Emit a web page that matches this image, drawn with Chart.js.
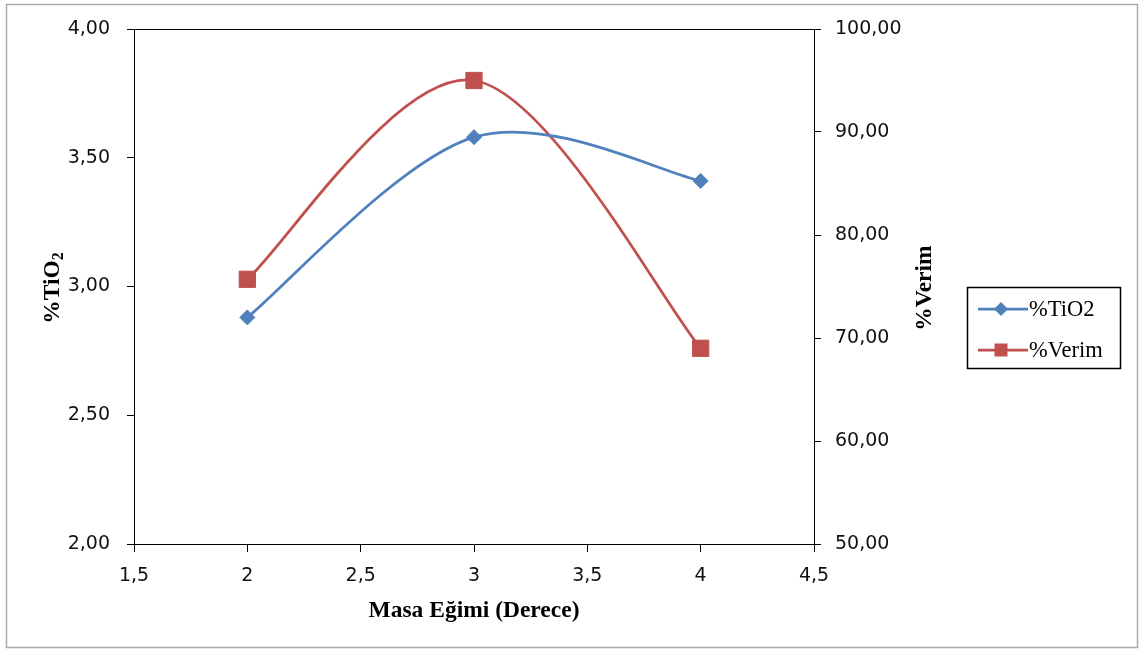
<!DOCTYPE html>
<html><head><meta charset="utf-8">
<script src="https://cdn.jsdelivr.net/npm/chart.js@4.4.1/dist/chart.umd.min.js"></script>
<style>html,body{margin:0;padding:0;background:#fff;overflow:hidden}#wrap{position:relative;width:1148px;height:651px}</style>
</head><body><div id="wrap"><canvas id="c" width="1148" height="651"></canvas></div>
<script>
const xValues = [2, 3, 4];
const tio2Values = [2.88, 3.58, 3.41];
const verimValues = [75.7, 95.0, 69.0];
const seriesNames = ['%TiO2', '%Verim'];
const xTickValues = [1.5, 2, 2.5, 3, 3.5, 4, 4.5];
const xTickLabels = ['1,5', '2', '2,5', '3', '3,5', '4', '4,5'];
const leftTickValues = [2, 2.5, 3, 3.5, 4];
const leftTickLabels = ['2,00', '2,50', '3,00', '3,50', '4,00'];
const rightTickValues = [50, 60, 70, 80, 90, 100];
const rightTickLabels = ['50,00', '60,00', '70,00', '80,00', '90,00', '100,00'];
const xTitle = 'Masa Eğimi (Derece)';
const leftTitleMain = '%TiO';
const leftTitleSub = '2';
const rightTitle = '%Verim';

const BLUE = '#4F81BD', RED = '#C0504D';
const tickFont = {family: 'DejaVu Sans', size: 19};
const titleFontFamily = '"Liberation Serif", "Times New Roman", serif';
const TITLE_SIZE = 23.5;

function setTicks(values) {
  return function(scale) { scale.ticks = values.map(v => ({value: v})); };
}
function labelFor(values, labels) {
  return function(v) { const i = values.indexOf(v); return i >= 0 ? labels[i] : ''; };
}

// Excel-like smoothing (Catmull-Rom style control points)
const smooth = {
  id: 'smooth',
  beforeDatasetDraw(chart, args) {
    const meta = args.meta;
    const line = meta.dataset;
    if (!line) return;
    line.updateControlPoints(chart.chartArea, 'x');
    const pts = meta.data;
    const k = 1 / 6;
    for (let i = 0; i < pts.length; i++) {
      const p = pts[i];
      const prev = pts[i - 1] || p;
      const next = pts[i + 1] || p;
      const dx = (next.x - prev.x) * k, dy = (next.y - prev.y) * k;
      p.cp1x = p.x - dx; p.cp1y = p.y - dy;
      p.cp2x = p.x + dx; p.cp2y = p.y + dy;
    }
  }
};

const decor = {
  id: 'decor',
  beforeDraw(chart) {
    const ctx = chart.ctx;
    ctx.save();
    ctx.fillStyle = '#fff';
    ctx.fillRect(0, 0, chart.width, chart.height);
    ctx.restore();
  },
  afterDraw(chart) {
    const ctx = chart.ctx, a = chart.chartArea;
    ctx.save();
    // outer frame
    ctx.strokeStyle = '#ababab';
    ctx.lineWidth = 1.5;
    ctx.strokeRect(6.5, 4.5, 1131, 643);
    // top border of plot
    ctx.strokeStyle = '#000';
    ctx.lineWidth = 1;
    const ty = Math.round(a.top) + 0.5;
    ctx.beginPath(); ctx.moveTo(a.left, ty); ctx.lineTo(a.right, ty); ctx.stroke();
    // left title with subscript
    ctx.fillStyle = '#000';
    ctx.textBaseline = 'alphabetic';
    ctx.font = 'bold ' + TITLE_SIZE + 'px ' + titleFontFamily;
    const mw = ctx.measureText(leftTitleMain).width;
    ctx.font = 'bold 16px ' + titleFontFamily;
    const sw = ctx.measureText(leftTitleSub).width;
    const total = mw + sw;
    ctx.translate(59, 288);
    ctx.rotate(-Math.PI / 2);
    ctx.font = 'bold ' + TITLE_SIZE + 'px ' + titleFontFamily;
    ctx.textAlign = 'left';
    ctx.fillText(leftTitleMain, -total / 2, 0);
    ctx.font = 'bold 16px ' + titleFontFamily;
    ctx.fillText(leftTitleSub, -total / 2 + mw, 4);
    ctx.setTransform(1, 0, 0, 1, 0, 0);
    // right title (bottom-to-top)
    ctx.translate(931, 288);
    ctx.rotate(-Math.PI / 2);
    ctx.font = 'bold ' + TITLE_SIZE + 'px ' + titleFontFamily;
    ctx.textAlign = 'center';
    ctx.fillText(rightTitle, 0, 0);
    ctx.setTransform(1, 0, 0, 1, 0, 0);
    // legend
    ctx.strokeStyle = '#000';
    ctx.lineWidth = 1.5;
    ctx.strokeRect(967.5, 287.5, 153, 81);
    const items = [
      {name: seriesNames[0], color: BLUE, style: 'diamond', y: 309},
      {name: seriesNames[1], color: RED, style: 'square', y: 350}
    ];
    items.forEach(it => {
      ctx.strokeStyle = it.color;
      ctx.fillStyle = it.color;
      ctx.lineWidth = 2.75;
      ctx.beginPath(); ctx.moveTo(978, it.y); ctx.lineTo(1028, it.y); ctx.stroke();
      ctx.beginPath();
      if (it.style === 'diamond') {
        const r = 7;
        ctx.moveTo(1001, it.y - r); ctx.lineTo(1001 + r, it.y); ctx.lineTo(1001, it.y + r); ctx.lineTo(1001 - r, it.y); ctx.closePath();
      } else {
        const h = 6.5;
        ctx.rect(1001 - h, it.y - h, 2 * h, 2 * h);
      }
      ctx.fill();
      ctx.fillStyle = '#000';
      ctx.font = '22.5px ' + titleFontFamily;
      ctx.textAlign = 'left';
      ctx.textBaseline = 'middle';
      ctx.fillText(it.name, 1029, it.y + 1);
    });
    ctx.restore();
  }
};

new Chart(document.getElementById('c'), {
  type: 'line',
  data: {
    datasets: [
      {
        label: seriesNames[0],
        data: xValues.map((x, i) => ({x: x, y: tio2Values[i]})),
        yAxisID: 'y',
        borderColor: BLUE, backgroundColor: BLUE,
        borderWidth: 2.75, tension: 0.4, fill: false,
        pointStyle: 'rectRot', pointRadius: 7.5, pointBorderWidth: 1,
        pointBackgroundColor: BLUE, pointBorderColor: BLUE
      },
      {
        label: seriesNames[1],
        data: xValues.map((x, i) => ({x: x, y: verimValues[i]})),
        yAxisID: 'y1',
        borderColor: RED, backgroundColor: RED,
        borderWidth: 2.75, tension: 0.4, fill: false,
        pointStyle: 'rect', pointRadius: 11.5, pointBorderWidth: 1,
        pointBackgroundColor: RED, pointBorderColor: RED
      }
    ]
  },
  options: {
    responsive: false, animation: false, devicePixelRatio: 1,
    layout: {padding: {left: 0, top: 29, right: 234, bottom: 17}},
    plugins: {legend: {display: false}, tooltip: {enabled: false}},
    scales: {
      x: {
        type: 'linear', position: 'bottom', min: 1.5, max: 4.5,
        afterBuildTicks: setTicks(xTickValues),
        afterFit(s) { s.height = 90; },
        ticks: {font: tickFont, color: '#111', padding: 13, maxRotation: 0, autoSkip: false,
                callback: labelFor(xTickValues, xTickLabels)},
        grid: {drawOnChartArea: false, drawTicks: true, tickLength: 8, color: '#000'},
        border: {color: '#000', width: 1},
        title: {display: true, text: xTitle, color: '#000',
                font: {family: titleFontFamily, size: TITLE_SIZE, weight: 'bold'}, padding: {top: 0, bottom: 9}}
      },
      y: {
        type: 'linear', position: 'left', min: 2, max: 4,
        afterBuildTicks: setTicks(leftTickValues),
        afterFit(s) { s.width = 134; },
        ticks: {font: tickFont, color: '#111', padding: 17, callback: labelFor(leftTickValues, leftTickLabels)},
        grid: {drawOnChartArea: false, drawTicks: true, tickLength: 7, color: '#000'},
        border: {color: '#000', width: 1}
      },
      y1: {
        type: 'linear', position: 'right', min: 50, max: 100,
        afterBuildTicks: setTicks(rightTickValues),
        afterFit(s) { s.width = 100; },
        ticks: {font: tickFont, color: '#111', padding: 14, callback: labelFor(rightTickValues, rightTickLabels)},
        grid: {drawOnChartArea: false, drawTicks: true, tickLength: 7, color: '#000'},
        border: {color: '#000', width: 1}
      }
    }
  },
  plugins: [smooth, decor]
});
</script></body></html>
